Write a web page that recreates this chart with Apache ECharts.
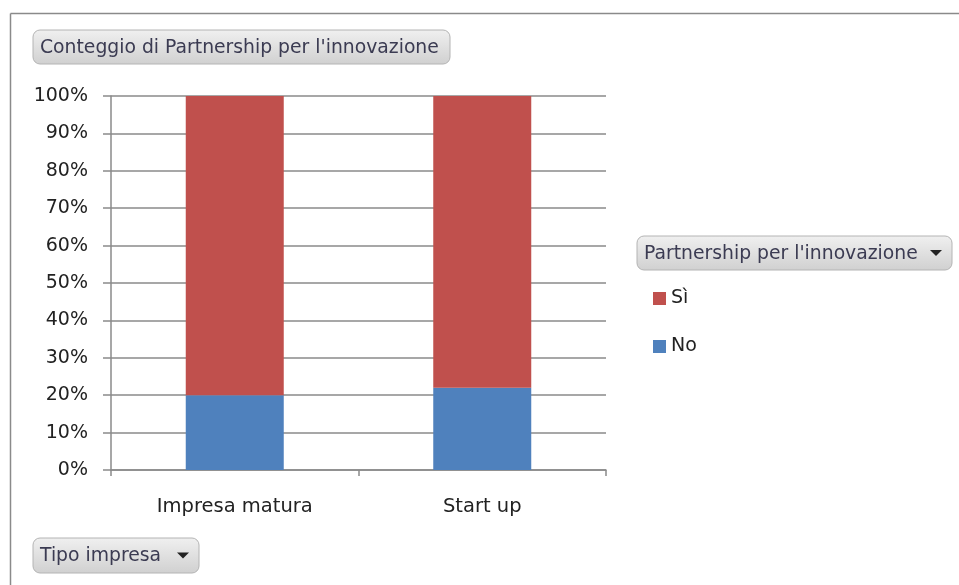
<!DOCTYPE html>
<html>
<head>
<meta charset="utf-8">
<script src="https://cdn.jsdelivr.net/npm/echarts@6/dist/echarts.min.js"></script>
<style>
html,body{margin:0;padding:0;background:#fff;}
#c{width:959px;height:585px;}
</style>
</head>
<body>
<div id="c"></div>
<script>
const categories = ["Impresa matura", "Start up"];
const noValues = [20, 22];
const siValues = [80, 78];
const yTickLabels = ["0%","10%","20%","30%","40%","50%","60%","70%","80%","90%","100%"];
const chartTitle = "Conteggio di Partnership per l'innovazione";
const legendTitle = "Partnership per l'innovazione";
const axisButton = "Tipo impresa";

const FONT = "DejaVu Sans";
const chart = echarts.init(document.getElementById('c'), null, {renderer:'canvas'});

function button(x, y, w, h, label, arrow) {
  const children = [{
    type:'rect', shape:{x:0,y:0,width:w,height:h,r:7},
    style:{fill:new echarts.graphic.LinearGradient(0,0,0,1,[{offset:0,color:'#f0f0f0'},{offset:1,color:'#d0d0d0'}]),
      stroke:'#b4b4b4', lineWidth:1}
  },{
    type:'text', x:7, y:h/2+1,
    style:{text:label, font:'18.8px "'+FONT+'"', fill:'#3b3b52', verticalAlign:'middle', textAlign:'left'}
  }];
  if (arrow) {
    children.push({type:'polygon', shape:{points:[[w-22,h/2-3],[w-10,h/2-3],[w-16,h/2+3]]}, style:{fill:'#222'}});
  }
  return {type:'group', x:x, y:y, children:children};
}

chart.setOption({
  animation:false,
  backgroundColor:'#ffffff',
  grid:{left:111, right:353, top:96, bottom:115},
  xAxis:{
    type:'category', data:categories,
    axisLine:{lineStyle:{color:'#8a8a8a', width:1.5}},
    axisTick:{show:true, length:6, lineStyle:{color:'#8a8a8a', width:1.5}},
    axisLabel:{color:'#222', fontFamily:FONT, fontSize:19.5, margin:27}
  },
  yAxis:{
    type:'value', min:0, max:100, interval:10,
    axisLine:{show:true, lineStyle:{color:'#8a8a8a', width:1.5}},
    axisTick:{show:true, length:8, lineStyle:{color:'#8a8a8a', width:1.5}},
    splitLine:{lineStyle:{color:'#8a8a8a', width:1.5}},
    axisLabel:{color:'#222', fontFamily:FONT, fontSize:19, margin:23,
      formatter:function(v){ return yTickLabels[Math.round(v/10)]; }}
  },
  legend:{
    orient:'vertical', left:648, top:284, itemWidth:13, itemHeight:13, itemGap:29,
    icon:'rect', data:['Sì','No'],
    textStyle:{color:'#222', fontFamily:FONT, fontSize:19}
  },
  series:[
    {name:'No', type:'bar', stack:'s', data:noValues, barWidth:98, itemStyle:{color:'#4F81BD'}},
    {name:'Sì', type:'bar', stack:'s', data:siValues, barWidth:98, itemStyle:{color:'#C0504D'}}
  ],
  graphic:[
    {type:'line', shape:{x1:10.5,y1:13.5,x2:959,y2:13.5}, style:{stroke:'#8a8a8a', lineWidth:1.5}},
    {type:'line', shape:{x1:10.5,y1:13.5,x2:10.5,y2:585}, style:{stroke:'#8a8a8a', lineWidth:1.5}},
    button(33, 30, 417, 34, chartTitle, false),
    button(637, 236, 315, 34, legendTitle, true),
    button(33, 538, 166, 35, axisButton, true)
  ]
});
</script>
</body>
</html>
